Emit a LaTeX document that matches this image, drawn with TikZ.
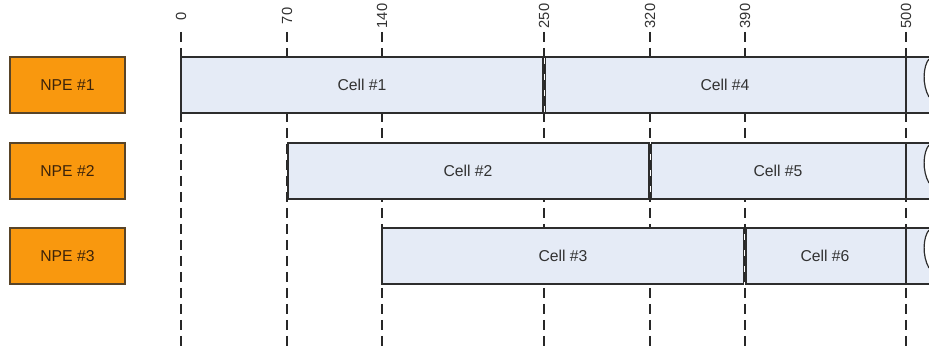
\documentclass[tikz,border=0pt]{standalone}
\usepackage{fontspec}
\setmainfont{Liberation Sans}
\definecolor{npeorange}{RGB}{249,152,14}
\definecolor{npeedge}{RGB}{88,68,40}
\definecolor{npetext}{RGB}{60,35,10}
\definecolor{cellfill}{RGB}{229,235,246}
\definecolor{celledge}{RGB}{45,45,45}
\definecolor{celltxt}{RGB}{50,50,50}
\definecolor{gridcol}{RGB}{40,40,40}
\begin{document}
\begin{tikzpicture}[x=0.75pt,y=-0.75pt,
  npe/.style={draw=npeedge, fill=npeorange, line width=0.9pt, minimum width=86.25pt, minimum height=42pt, inner sep=0pt, font=\fontsize{11.8}{14}\selectfont, text=npetext},
  cellbox/.style={draw=celledge, fill=cellfill, line width=0.9pt},
  contfill/.style={fill=cellfill},
  contedge/.style={draw=celledge, line width=0.9pt},
  celltext/.style={font=\fontsize{11.8}{14}\selectfont, text=celltxt, inner sep=0pt},
  gridline/.style={draw=gridcol, line width=0.9pt, dash pattern=on 7.5pt off 4.5pt},
  tick/.style={rotate=90, font=\fontsize{11}{13}\selectfont, text=celltxt, inner sep=0pt}]
\useasboundingbox (0,0) rectangle (929,352);
\clip (0,0) rectangle (929,352);
% grid lines and tick labels
\foreach \x/\l in {181/0,287/70,382/140,544/250,650/320,745/390,906/500}{
  \node[tick] (t\l) at (\x,16) {\l};
  \coordinate (g\l) at (\x,352);
  \draw[gridline] (\x,32) -- (g\l);
}
% NPE boxes
\node[npe] (npe1) at (67.5,85) {NPE \#1};
\node[npe] (npe2) at (67.5,171) {NPE \#2};
\node[npe] (npe3) at (67.5,256) {NPE \#3};
% continuation pieces
\foreach \t/\b in {57/113,143/199,228/284}{
  \fill[contfill] (906,\t) -- (929,\t) .. controls (923,\t+8) and (922,\t+28) .. (929,\t+40) -- (929,\b) -- (906,\b) -- cycle;
  \draw[contedge] (906,\t) -- (929,\t);
  \draw[contedge] (906,\b) -- (929,\b);
  \draw[contedge] (929,\t+2) .. controls (923,\t+9) and (922,\t+28) .. (929,\t+40);
}
% row 1
\draw[cellbox] (181,57) rectangle (543,113);
\node[celltext] (c1) at (362,85) {Cell \#1};
\draw[cellbox] (545.5,57) rectangle (906,113);
\node[celltext] (c4) at (725,85) {Cell \#4};
% row 2
\draw[cellbox] (288,143) rectangle (649,199);
\node[celltext] (c2) at (468,171) {Cell \#2};
\draw[cellbox] (651.5,143) rectangle (906,199);
\node[celltext] (c5) at (778,171) {Cell \#5};
% row 3
\draw[cellbox] (382,228) rectangle (743.5,284);
\node[celltext] (c3) at (563,256) {Cell \#3};
\draw[cellbox] (746,228) rectangle (906,284);
\node[celltext] (c6) at (825,256) {Cell \#6};
\end{tikzpicture}
\end{document}
